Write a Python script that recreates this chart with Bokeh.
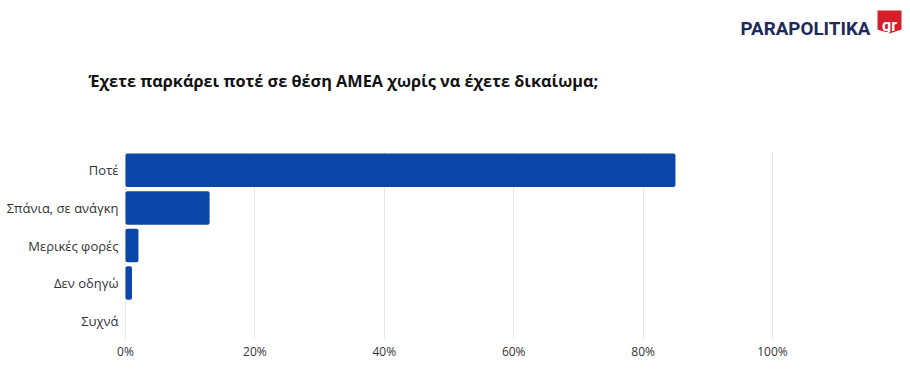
from bokeh.plotting import figure
from bokeh.layouts import column
from bokeh.models import FactorRange, Range1d, FixedTicker, CustomJSTickFormatter, ColumnDataSource
from bokeh.core.properties import value
from bokeh.embed import file_html
from bokeh.resources import INLINE

categories = ["Ποτέ", "Σπάνια, σε ανάγκη", "Μερικές φορές", "Δεν οδηγώ", "Συχνά"]
values = [85, 13, 2, 1, 0]
x_ticks = [0, 20, 40, 60, 80, 100]
title_text = "Έχετε παρκάρει ποτέ σε θέση ΑΜΕΑ χωρίς να έχετε δικαίωμα;"
logo_text = "PARAPOLITIKA"
logo_suffix = "gr"

FONT = "Open Sans"
BAR = "#0b47a8"
W = 910

# ---------- header (title + logo), frame covers the whole header ----------
HEADER_H = 140
hdr = figure(width=W, height=HEADER_H, output_backend="svg", toolbar_location=None,
             x_range=Range1d(0, W), y_range=Range1d(HEADER_H, 0),
             x_axis_location=None, y_axis_location=None,
             min_border=0, min_border_left=0, min_border_right=0,
             min_border_top=0, min_border_bottom=0)
hdr.outline_line_color = None
hdr.grid.grid_line_color = None
hdr.border_fill_color = "white"

hdr.text(x=[88], y=[80], text=[title_text], text_font=value(FONT), text_font_style="bold",
         text_font_size="16.3px", text_color="#111111", text_baseline="alphabetic")
hdr.text(x=[740], y=[28], text=[logo_text], text_font=value("Roboto"),
         text_font_style="bold", text_font_size="18.8px", text_color="#1e2a5a",
         text_baseline="alphabetic")
hdr.patch(x=[877, 901, 901, 889, 877], y=[10, 10, 29, 33, 29], fill_color="#d3202b", line_color=None)
hdr.text(x=[889], y=[25], text=[logo_suffix], text_font=value("Roboto"),
         text_font_style="bold", text_font_size="16px", text_color="white",
         text_baseline="alphabetic", text_align="center")

# ---------- chart ----------
PX_PER_PCT = 6.47          # 100 % spans 647 px
ZERO_PX = 125              # page x of the 0 % line
x_start = -ZERO_PX / PX_PER_PCT
x_end = (W - ZERO_PX) / PX_PER_PCT

src = ColumnDataSource(dict(cat=categories, val=values))
lbl = ColumnDataSource(dict(cat=categories, x=[-7 / PX_PER_PCT] * len(categories)))

p = figure(width=W, height=376 - HEADER_H, output_backend="svg", toolbar_location=None,
           y_range=FactorRange(*reversed(categories)), x_range=Range1d(x_start, x_end),
           y_axis_location=None,
           min_border=0, min_border_left=0, min_border_right=0,
           min_border_top=11, min_border_bottom=37)
p.outline_line_color = None
p.background_fill_color = "white"
p.border_fill_color = "white"

p.hbar(y="cat", right="val", left=0, height=0.89, source=src,
       fill_color=BAR, line_color=None, border_radius=2)

# category labels (left of the 0 % line)
p.text(x="x", y="cat", text="cat", source=lbl, text_font=value(FONT), text_font_size="13px",
       text_color="#333333", text_align="right", text_baseline="middle")

ax = p.xaxis[0]
ax.ticker = FixedTicker(ticks=x_ticks)
ax.formatter = CustomJSTickFormatter(code="return tick + '%';")
ax.axis_line_color = None
ax.major_tick_line_color = None
ax.minor_tick_line_color = None
ax.major_tick_out = 0
ax.major_tick_in = 0
ax.minor_tick_out = 0
ax.major_label_text_font = FONT
ax.major_label_text_color = "#333333"
ax.major_label_text_font_size = "12px"
ax.major_label_standoff = 3

p.ygrid.grid_line_color = None
p.xgrid.grid_line_color = "#e6e6e6"
p.xgrid.ticker = FixedTicker(ticks=x_ticks)

layout = column(hdr, p, spacing=0)
open("out.html", "w").write(file_html(layout, INLINE))
